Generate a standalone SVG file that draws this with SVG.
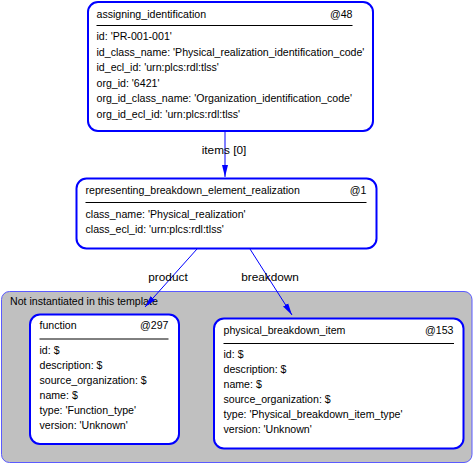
<svg xmlns="http://www.w3.org/2000/svg" width="474" height="464" viewBox="0 0 474 464">
<defs>
<style>
text{font-family:"Liberation Sans",Arial,sans-serif;font-size:10.6px;fill:#000}
.node{fill:#fff;stroke:#0000ff;stroke-width:2}
.sep{stroke:#000;stroke-width:1}
.conn{stroke:#0000ff;stroke-width:1;fill:none}
.end{text-anchor:end}
.lbl{text-anchor:middle;font-size:11.8px}
</style>
<marker id="arr" viewBox="0 0 12 8" refX="12" refY="4" markerWidth="12" markerHeight="8" markerUnits="userSpaceOnUse" orient="auto">
<path d="M0,1 L12,4 L0,7 Z" fill="#0000ff"/>
</marker>
</defs>
<rect x="1.5" y="291.5" width="470.5" height="171" rx="8" fill="#c0c0c0" stroke="#5a5aff" stroke-width="1"/>
<text x="10" y="305">Not instantiated in this template</text>
<g id="connectors">
<line class="conn" x1="225" y1="131" x2="225" y2="177" marker-end="url(#arr)"/>
<text class="lbl" x="224" y="154">items [0]</text>
<line class="conn" x1="197" y1="249" x2="145" y2="307" marker-end="url(#arr)"/>
<text class="lbl" x="168" y="281">product</text>
<line class="conn" x1="250" y1="249" x2="292" y2="315" marker-end="url(#arr)"/>
<text class="lbl" x="270" y="281">breakdown</text>
</g>
<g id="assigning_identification">
<rect class="node" x="88" y="2" width="285" height="129" rx="10"/>
<text x="96.5" y="17.5">assigning_identification</text>
<text class="end" x="352.5" y="17.5">@48</text>
<line class="sep" x1="96.5" y1="25.5" x2="352.5" y2="25.5"/>
<text x="96.5" y="40">id: 'PR-001-001'</text>
<text x="96.5" y="55.5">id_class_name: 'Physical_realization_identification_code'</text>
<text x="96.5" y="71">id_ecl_id: 'urn:plcs:rdl:tlss'</text>
<text x="96.5" y="86.5">org_id: '6421'</text>
<text x="96.5" y="102">org_id_class_name: 'Organization_identification_code'</text>
<text x="96.5" y="117.5">org_id_ecl_id: 'urn:plcs:rdl:tlss'</text>
</g>
<g id="representing_breakdown_element_realization">
<rect class="node" x="76.5" y="178.5" width="300" height="70" rx="10"/>
<text x="85.5" y="193.5">representing_breakdown_element_realization</text>
<text class="end" x="366.5" y="193.5">@1</text>
<line class="sep" x1="85.5" y1="202.5" x2="366.5" y2="202.5"/>
<text x="85.5" y="217.5">class_name: 'Physical_realization'</text>
<text x="85.5" y="232.5">class_ecl_id: 'urn:plcs:rdl:tlss'</text>
</g>
<g id="function">
<rect class="node" x="30" y="314.5" width="149" height="129.5" rx="10"/>
<text x="39.5" y="329">function</text>
<text class="end" x="168.5" y="329">@297</text>
<line class="sep" x1="39.5" y1="339" x2="168.5" y2="339"/>
<text x="39.5" y="353.5">id: $</text>
<text x="39.5" y="368.5">description: $</text>
<text x="39.5" y="383.5">source_organization: $</text>
<text x="39.5" y="398.5">name: $</text>
<text x="39.5" y="413.5">type: 'Function_type'</text>
<text x="39.5" y="428.5">version: 'Unknown'</text>
</g>
<g id="physical_breakdown_item">
<rect class="node" x="214" y="318.5" width="249.5" height="130" rx="10"/>
<text x="223.5" y="333.5">physical_breakdown_item</text>
<text class="end" x="453.5" y="333.5">@153</text>
<line class="sep" x1="223.5" y1="343.5" x2="454" y2="343.5"/>
<text x="223.5" y="358">id: $</text>
<text x="223.5" y="373">description: $</text>
<text x="223.5" y="388">name: $</text>
<text x="223.5" y="403">source_organization: $</text>
<text x="223.5" y="418">type: 'Physical_breakdown_item_type'</text>
<text x="223.5" y="433">version: 'Unknown'</text>
</g>
</svg>
